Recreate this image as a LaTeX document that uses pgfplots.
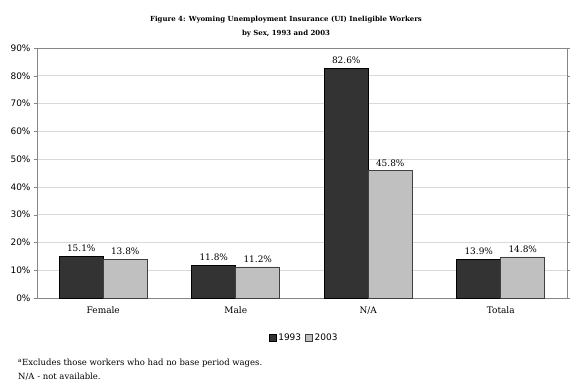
\documentclass[border=0pt]{standalone}
\usepackage{pgfplots}
\pgfplotsset{compat=1.18}
\usepackage{fontspec}
\setmainfont{DejaVu Serif}
\setsansfont{DejaVu Sans}
\definecolor{darkbar}{HTML}{333333}
\definecolor{lightbar}{HTML}{C0C0C0}
\definecolor{axisgray}{HTML}{868686}
\definecolor{gridgray}{HTML}{D9D9D9}
\begin{document}
\begin{tikzpicture}
\begin{axis}[
  at={(0,0)}, anchor=south west,
  scale only axis, width=530bp, height=250bp,
  xmin=-0.5, xmax=3.5, ymin=0, ymax=90,
  ybar=0pt, bar width=44bp,
  xtick={0,1,2,3},
  xticklabels={Female,Male,N/A,Totala},
  x tick label style={font=\fontsize{9}{10}\selectfont, yshift=-2bp},
  x tick style={draw=none},
  extra x ticks={0.5,1.5,2.5},
  extra x tick labels={},
  extra x tick style={major tick length=4bp, tick align=outside, tick style={draw=axisgray}, grid=none},
  ytick={0,10,20,30,40,50,60,70,80,90},
  yticklabels={0\%,10\%,20\%,30\%,40\%,50\%,60\%,70\%,80\%,90\%},
  y tick label style={font=\sffamily\fontsize{9}{10}\selectfont},
  ymajorgrids, major grid style={draw=gridgray, line width=0.6bp},
  tick align=outside, major tick length=3bp,
  y tick style={draw=axisgray},
  axis line style={draw=axisgray, line width=0.8bp},
  point meta=explicit symbolic,
  nodes near coords,
  nodes near coords style={font=\fontsize{9}{10}\selectfont, text=black, yshift=1bp},
  legend style={at={(0.504,-0.16)}, anchor=center, draw=none, fill=none,
    font=\sffamily\fontsize{9}{10}\selectfont, legend columns=2,
    /tikz/every even column/.append style={column sep=2bp},
    inner sep=0pt},
  legend image code/.code={\draw[#1, line width=0.6bp] (0bp,-3.5bp) rectangle (7bp,3.5bp);},
]
\addplot[fill=darkbar, draw=black, line width=0.6bp] coordinates {
  (0,15.1) [15.1\%]
  (1,11.8) [11.8\%]
  (2,82.6) [82.6\%]
  (3,13.9) [13.9\%]
};
\addplot[fill=lightbar, draw=black!75, line width=0.6bp] coordinates {
  (0,13.8) [13.8\%]
  (1,11.2) [11.2\%]
  (2,45.8) [45.8\%]
  (3,14.8) [14.8\%]
};
\legend{1993,2003}
\end{axis}
\node[align=center, font=\bfseries\fontsize{7}{14}\selectfont] at (249bp,271bp)
  {Figure 4: Wyoming Unemployment Insurance (UI) Ineligible Workers\\by Sex, 1993 and 2003};
\node[anchor=base west, font=\fontsize{8.5}{10}\selectfont, inner sep=0pt] at (-19bp,-67bp)
  {\textsuperscript{a}Excludes those workers who had no base period wages.};
\node[anchor=base west, font=\fontsize{8.5}{10}\selectfont, inner sep=0pt] at (-19bp,-81bp)
  {N/A - not available.};
\useasboundingbox (-37bp,-93bp) rectangle (538bp,298bp);
\end{tikzpicture}
\end{document}
